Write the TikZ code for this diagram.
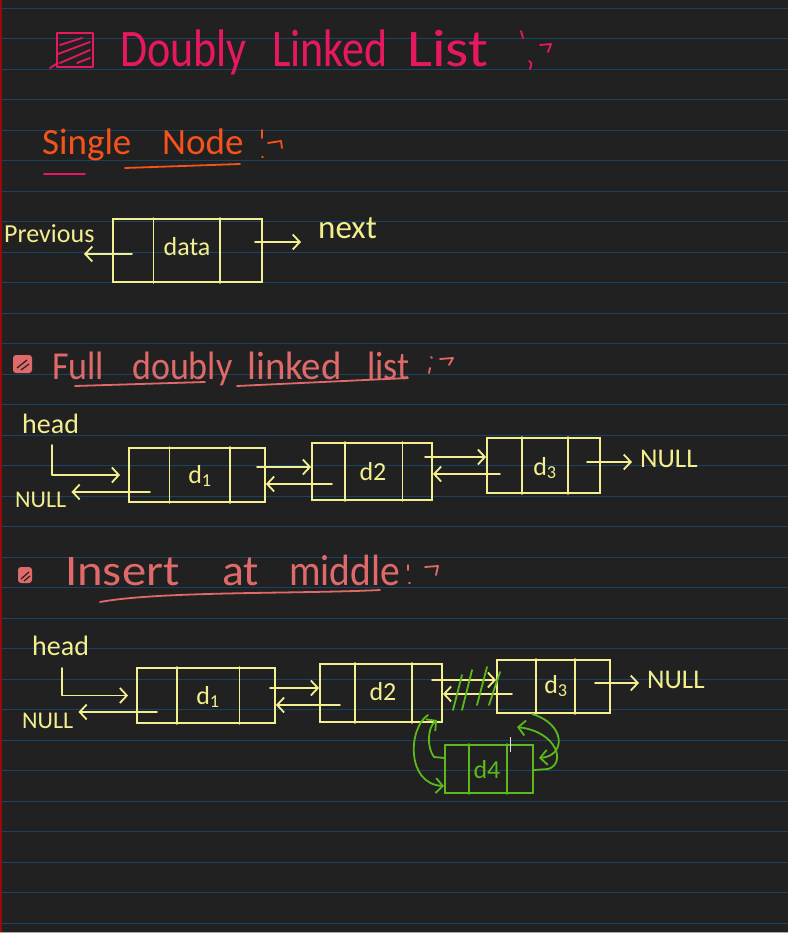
\documentclass[tikz,border=0pt]{standalone}
\usepackage{fontspec}
\setmainfont{Carlito}
\usetikzlibrary{calc,arrows.meta}
\definecolor{bg}{HTML}{212121}
\definecolor{rulec}{HTML}{1A4262}
\definecolor{marginc}{HTML}{9A0A0A}
\definecolor{titlepink}{HTML}{E8185E}
\definecolor{hdorange}{HTML}{F5521C}
\definecolor{salmon}{HTML}{E06A6A}
\definecolor{yel}{HTML}{F4EF8E}
\definecolor{grn}{HTML}{5CB81B}
\newcommand\hfsz[1]{\fontsize{#1}{#1}\selectfont}
\newcommand\cellsplit[4]{%
  \draw[line width=1.8pt, line cap=round, #4] ($(#1.north west)!#2!(#1.north east)$) -- ($(#1.south west)!#2!(#1.south east)$)
    ($(#1.north west)!#3!(#1.north east)$) -- ($(#1.south west)!#3!(#1.south east)$);}
\begin{document}
\begin{tikzpicture}[x=1pt,y=-1pt,
  ink/.style={line width=1.8pt, line cap=round, line join=round},
  yink/.style={ink, draw=yel},
  gink/.style={ink, draw=grn},
  arr/.style={-{Straight Barb[length=7pt,width=15pt]}},
  lbox/.style={draw=yel, line width=1.8pt, rectangle, inner sep=0pt},
  gbox/.style={draw=grn, line width=1.8pt, rectangle, inner sep=0pt},
  ytxt/.style={text=yel, inner sep=0pt},
  gtxt/.style={text=grn, inner sep=0pt},
  lbl/.style={inner sep=0pt, anchor=base west}
]
% page
\fill[bg] (0,0) rectangle (788,933);
\useasboundingbox (0,0) rectangle (788,933);
\foreach \k in {0,...,30} \draw[rulec, line width=1.2pt] (0,8.3+30.5*\k) -- (788,8.3+30.5*\k);
\draw[marginc, line width=1.6pt] (1,0) -- (1,933);
\draw[gray!70, line width=1pt] (0,932.5) -- (788,932.5);

% ---------- title ----------
\draw[titlepink, ink] (57,33) rectangle (93,67);
\draw[titlepink, ink] (60,45) -- (82,38) (58,54) -- (90,42) (60,63) -- (90,50) (77,63) -- (90,58) (50,68) -- (58,63);
\node[lbl, text=titlepink, font=\hfsz{44}] (tw1) at (120,67) {\scalebox{1}[1.2]{Doubly}};
\node[lbl, text=titlepink, font=\hfsz{44}] (tw2) at (272,67) {\scalebox{1}[1.2]{Linked}};
\node[lbl, text=titlepink, font=\hfsz{44}] (tw3) at (407,67) {\scalebox{1.35}[1.2]{List}};
\draw[titlepink, ink] (521,31) -- (523,38) (529,61) .. controls (532,63) .. (530,69) (540,45) -- (551,44) -- (548,52);

% ---------- Single Node ----------
\node[lbl, text=hdorange, font=\hfsz{37}] (sn1) at (42,155) {Single};
\node[lbl, text=hdorange, font=\hfsz{37}] (sn2) at (162,155) {Node};
\draw[hdorange, ink] (125,168) -- (240,164);
\draw[titlepink, ink] (44,174) -- (85,174);
\draw[hdorange, ink] (262,130) -- (262,138) (262,157) -- (263,157) (268,143) -- (281,141) -- (282,148);

\node[lbox, minimum width=149pt, minimum height=63pt] (s0) at (187.5,250.5) {};
\cellsplit{s0}{0.275}{0.718}{yel}
\node[ytxt, font=\hfsz{26}] (s0d) at (187,247) {data};
\node[ytxt, lbl, font=\hfsz{26}] (prev) at (4,243) {Previous};
\node[ytxt, lbl, font=\hfsz{33}] (next) at (318,238) {next};
\coordinate (s0p) at (132,254);
\coordinate (prevtip) at (84,254);
\coordinate (s0n) at (255,242);
\coordinate (nexttip) at (301,242);
\draw[yink, arr] (s0p) -- (prevtip);
\draw[yink, arr] (s0n) -- (nexttip);

% ---------- Full doubly linked list ----------
\fill[salmon, rounded corners=3pt] (13,355) rectangle (32,373);
\draw[bg, line width=1.2pt] (17,368) -- (27,360) (21,370) -- (29,364);
\node[lbl, text=salmon, font=\hfsz{36}] (fw1) at (52,379) {\scalebox{1}[1.1]{Full}};
\node[lbl, text=salmon, font=\hfsz{36}] (fw2) at (132,379) {\scalebox{1}[1.1]{doubly}};
\node[lbl, text=salmon, font=\hfsz{36}] (fw3) at (247,379) {\scalebox{1.08}[1.1]{linked}};
\node[lbl, text=salmon, font=\hfsz{36}] (fw4) at (367,379) {\scalebox{1}[1.1]{list}};
\draw[salmon, ink] (75,386) -- (205,382) (237,386) -- (408,378);
\draw[salmon, ink] (431,357) -- (432,358) (430,368) -- (429,373) (440,359) -- (453,358) -- (449,365);

\node[ytxt, lbl, font=\hfsz{28}] (ha) at (22,433) {head};
\node[ytxt, lbl, font=\hfsz{24}] (na) at (15,507) {NULL};
\node[ytxt, lbl, font=\hfsz{27}] (nb) at (640,467) {NULL};

\node[lbox, minimum width=136pt, minimum height=54pt] (a1) at (197,475) {};
\node[lbox, minimum width=120pt, minimum height=57pt] (a2) at (372,471.5) {};
\node[lbox, minimum width=113pt, minimum height=55pt] (a3) at (543.5,465.5) {};
\cellsplit{a1}{0.30}{0.74}{yel}
\cellsplit{a2}{0.275}{0.75}{yel}
\cellsplit{a3}{0.31}{0.71}{yel}
\node[ytxt, font=\hfsz{26}] (a1d) at (200,476) {d\textsubscript{1}};
\node[ytxt, font=\hfsz{26}] (a2d) at (373,472) {d2};
\node[ytxt, font=\hfsz{26}] (a3d) at (545,468) {d\textsubscript{3}};

\coordinate (ha0) at (52,445);
\coordinate (a1p) at (150,492);
\coordinate (a1n) at (257,467);
\coordinate (a2p) at (332,484);
\coordinate (a2n) at (425,457);
\coordinate (a3p) at (500,474);
\coordinate (a3n) at (587,462);
\draw[yink, arr, shorten >=8pt] (ha0) |- (a1.west);
\draw[yink, arr, shorten >=5pt] (a1p) -- (a1p -| na.east);
\draw[yink, arr] (a1n) -- (a1n -| a2.west);
\draw[yink, arr] (a2p) -- (a2p -| a1.east);
\draw[yink, arr] (a2n) -- (a2n -| a3.west);
\draw[yink, arr] (a3p) -- (a3p -| a2.east);
\draw[yink, arr, shorten >=8pt] (a3n) -- (a3n -| nb.west);

% ---------- Insert at middle ----------
\fill[salmon, rounded corners=3pt] (18,567) rectangle (32,583);
\draw[bg, line width=1.2pt] (21,579) -- (29,572) (24,581) -- (30,576);
\node[lbl, text=salmon, font=\hfsz{38}] (iw1) at (65,585) {\scalebox{1.28}[1.15]{Insert}};
\node[lbl, text=salmon, font=\hfsz{38}] (iw2) at (222,585) {\scalebox{1.2}[1.15]{at}};
\node[lbl, text=salmon, font=\hfsz{38}] (iw3) at (289,585) {\scalebox{1.04}[1.15]{middle}};
\draw[salmon, ink] (100,602) .. controls (160,591) and (300,594) .. (380,590);
\draw[salmon, ink] (408,565) -- (408,570) (409,583) -- (410,583) (425,567) -- (438,566) -- (436,575);

\node[ytxt, lbl, font=\hfsz{28}] (hb) at (32,655) {head};
\node[ytxt, lbl, font=\hfsz{24}] (nc) at (22,728) {NULL};
\node[ytxt, lbl, font=\hfsz{27}] (nd) at (647,688) {NULL};

\node[lbox, minimum width=138pt, minimum height=55pt] (b1) at (206,695.5) {};
\node[lbox, minimum width=122pt, minimum height=58pt] (b2) at (381,693) {};
\node[lbox, minimum width=113pt, minimum height=53pt] (b3) at (553.5,686.5) {};
\node[gbox, minimum width=88pt, minimum height=48pt] (b4) at (489,769) {};
\cellsplit{b1}{0.29}{0.74}{yel}
\cellsplit{b2}{0.29}{0.75}{yel}
\cellsplit{b3}{0.35}{0.69}{yel}
\cellsplit{b4}{0.28}{0.70}{grn}
\node[ytxt, font=\hfsz{26}] (b1d) at (208,697) {d\textsubscript{1}};
\node[ytxt, font=\hfsz{26}] (b2d) at (383,692) {d2};
\node[ytxt, font=\hfsz{26}] (b3d) at (556,686) {d\textsubscript{3}};
\node[gtxt, font=\hfsz{26}] (b4d) at (487,770) {d4};

\coordinate (hb0) at (62,668);
\coordinate (b1p) at (157,712);
\coordinate (b1n) at (270,688);
\coordinate (b2p) at (340,705);
\coordinate (b2n) at (432,680);
\coordinate (b3p) at (512,694);
\coordinate (b3n) at (595,683);
\draw[yink, arr, shorten >=8pt] (hb0) |- (b1.west);
\draw[yink, arr, shorten >=5pt] (b1p) -- (b1p -| nc.east);
\draw[yink, arr] (b1n) -- (b1n -| b2.west);
\draw[yink, arr] (b2p) -- (b2p -| b1.east);
\draw[yink, arr] (b2n) -- (b2n -| b3.west);
\draw[yink, arr] (b3p) -- (b3p -| b2.east);
\draw[yink, arr, shorten >=8pt] (b3n) -- (b3n -| nd.west);

% green strike-through and new links
\draw[gink] (453,710) -- (462,675) (462,710) -- (472,670) (477,705) -- (487,667) (489,705) -- (500,672);
\coordinate (gA0) at (428,715);
\coordinate (gA1) at (444,786);
\coordinate (gB0) at (445,758);
\coordinate (gB1) at (437,720);
\coordinate (gC0) at (532,714);
\coordinate (gC1) at (539,758);
\coordinate (gD0) at (534,770);
\coordinate (gD1) at (517,727);
\draw[gink, arr] (gA0) .. controls (408,728) and (406,784) .. (gA1);
\draw[gink, arr] (gB0) -- (434,757) .. controls (427,748) and (427,728) .. (gB1);
\draw[gink, arr] (gC0) .. controls (566,724) and (566,756) .. (gC1);
\draw[gink, arr] (gD0) -- (548,769) .. controls (566,764) and (558,732) .. (gD1);
\draw[white!85!violet, line width=0.8pt] (510,737) -- (510,752);
\end{tikzpicture}
\end{document}
